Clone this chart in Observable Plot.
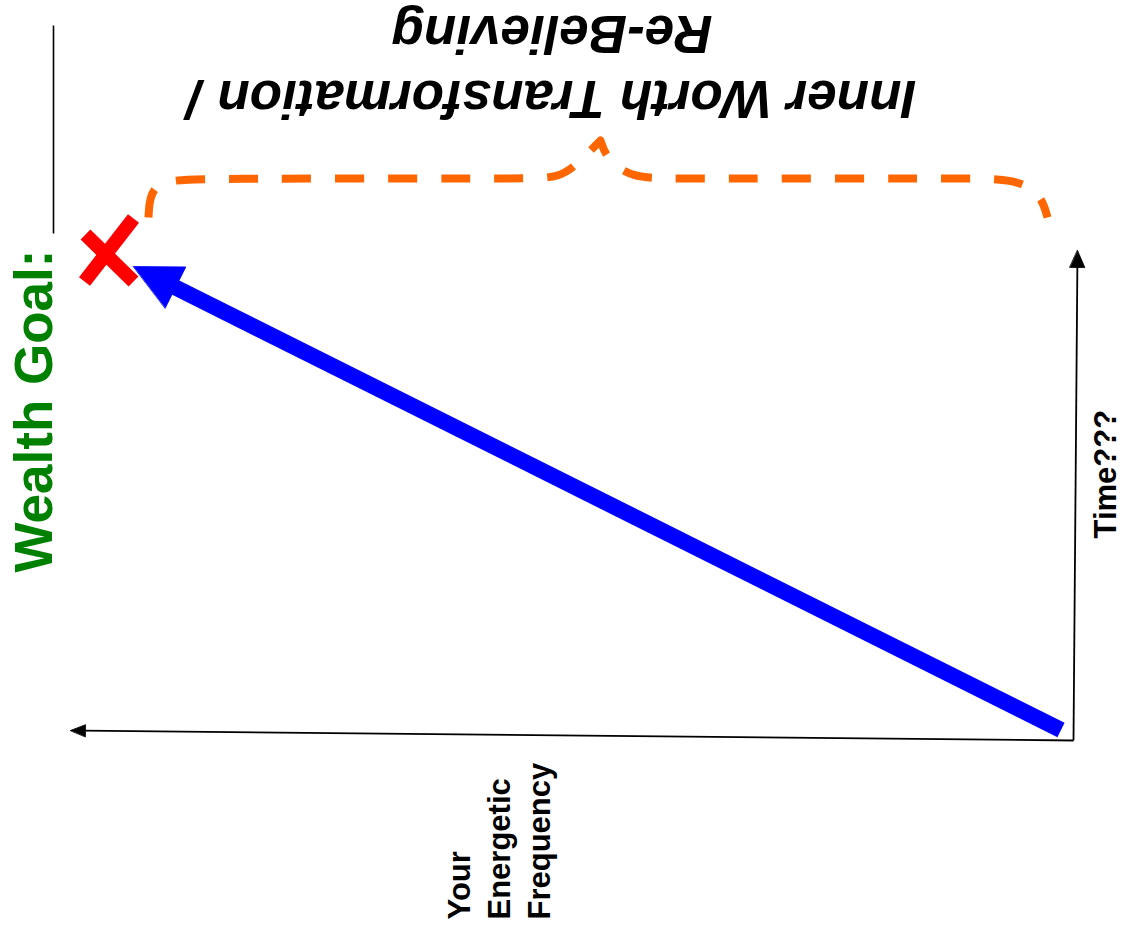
<!DOCTYPE html>
<html><head><meta charset="utf-8">
<script src="https://cdn.jsdelivr.net/npm/d3@7"></script>
<script src="https://cdn.jsdelivr.net/npm/@observablehq/plot@0.6"></script>
<style>html,body{margin:0;padding:0;background:#fff;} #chart svg{display:block}</style>
</head><body><div id="chart"></div>
<script>
// ---- Data (diagram coordinates) ----
const arrowIds   = ["frequency", "time", "progress"];
const arrowFromX = [1073, 1073, 1060.5];
const arrowFromY = [740, 740, 729.5];
const arrowToX   = [70, 1077, 133];
const arrowToY   = [730, 250, 266];

const crossFromX = [133, 85];
const crossFromY = [218, 234];
const crossToX   = [84, 133];
const crossToY   = [281, 281];

const braceX = [148, 150, 195, 520, 560, 580, 600, 600, 600, 606, 630, 680, 965, 1012, 1040, 1047];
const braceY = [217, 180, 178, 178, 178, 160, 140, 140, 140, 158, 178, 178, 178, 178, 192, 217];

const blankX = [53, 53];
const blankY = [25, 233];

const labelText = ["Wealth Goal:", "Inner Worth Transformation /\nRe-Believing", "Time???", "Your\nEnergetic\nFrequency"];
const labelX = [34.5, 551.5, 1105.5, 497];
const labelY = [572, 68.5, 538, 919];

// ---- Styles ----
const arrowStyle = [
  {color: "#000000", width: 1.8, headLength: 15, headWidth: 12},
  {color: "#000000", width: 1.8, headLength: 17, headWidth: 15},
  {color: "#0000FF", width: 16, headLength: 47, headWidth: 46}
];
const FONT = "'Liberation Sans', Arial, Helvetica, sans-serif";

// ---- Build tables ----
const arrows = arrowIds.map((id, i) => {
  const x1 = arrowFromX[i], y1 = arrowFromY[i], x2 = arrowToX[i], y2 = arrowToY[i];
  const dx = x2 - x1, dy = y2 - y1, L = Math.hypot(dx, dy), ux = dx / L, uy = dy / L;
  const s = arrowStyle[i];
  const bx = x2 - ux * s.headLength, by = y2 - uy * s.headLength;
  const nx = -uy, ny = ux, h = s.headWidth / 2;
  return {
    id, x1, y1, ex: bx + ux * 2, ey: by + uy * 2, ...s,
    head: [{x: x2, y: y2}, {x: bx + nx * h, y: by + ny * h}, {x: bx - nx * h, y: by - ny * h}]
  };
});
const cross = crossFromX.map((x, i) => ({x1: x, y1: crossFromY[i], x2: crossToX[i], y2: crossToY[i]}));
const brace = braceX.map((x, i) => ({x, y: braceY[i]}));
const blank = [{x1: blankX[0], y1: blankY[0], x2: blankX[1], y2: blankY[1]}];
const labels = labelText.map((t, i) => ({t, x: labelX[i], y: labelY[i]}));

const marks = [
  Plot.link(blank, {x1: "x1", y1: "y1", x2: "x2", y2: "y2", stroke: "#000", strokeWidth: 1.6}),
  Plot.line(brace, {x: "x", y: "y", curve: "basis", stroke: "#FF6600", strokeWidth: 8,
    strokeDasharray: "29,24", strokeLinecap: "butt"}),
  Plot.link(cross, {x1: "x1", y1: "y1", x2: "x2", y2: "y2", stroke: "#FF0000", strokeWidth: 14, strokeLinecap: "butt"}),
  ...arrows.flatMap(a => [
    Plot.link([a], {x1: "x1", y1: "y1", x2: "ex", y2: "ey", stroke: a.color, strokeWidth: a.width, strokeLinecap: "butt"}),
    Plot.line(a.head, {x: "x", y: "y", curve: "linear-closed", fill: a.color, stroke: a.color, strokeWidth: 0.8})
  ]),
  Plot.text([labels[0]], {x: "x", y: "y", text: "t", rotate: -90, textAnchor: "start", fontSize: 53,
    fontWeight: "bold", fill: "#008000", fontFamily: FONT}),
  Plot.text([labels[1]], {x: "x", y: "y", text: "t", rotate: 180, textAnchor: "middle", fontSize: 53,
    fontWeight: "bold", fontStyle: "italic", fill: "#000", lineHeight: 1.226, fontFamily: FONT}),
  Plot.text([labels[2]], {x: "x", y: "y", text: "t", rotate: -90, textAnchor: "start", fontSize: 31,
    fontWeight: "bold", fill: "#000", fontFamily: FONT}),
  Plot.text([labels[3]], {x: "x", y: "y", text: "t", rotate: -90, textAnchor: "start", fontSize: 31,
    fontWeight: "bold", fill: "#000", lineHeight: 1.29, fontFamily: FONT})
];

const chart = Plot.plot({
  width: 1123, height: 933, margin: 0,
  x: {domain: [0, 1123], range: [0, 1123], axis: null},
  y: {domain: [0, 933], range: [0, 933], axis: null},
  style: {background: "#fff", fontFamily: FONT},
  marks
});
document.getElementById("chart").appendChild(chart);
</script>
</body></html>
